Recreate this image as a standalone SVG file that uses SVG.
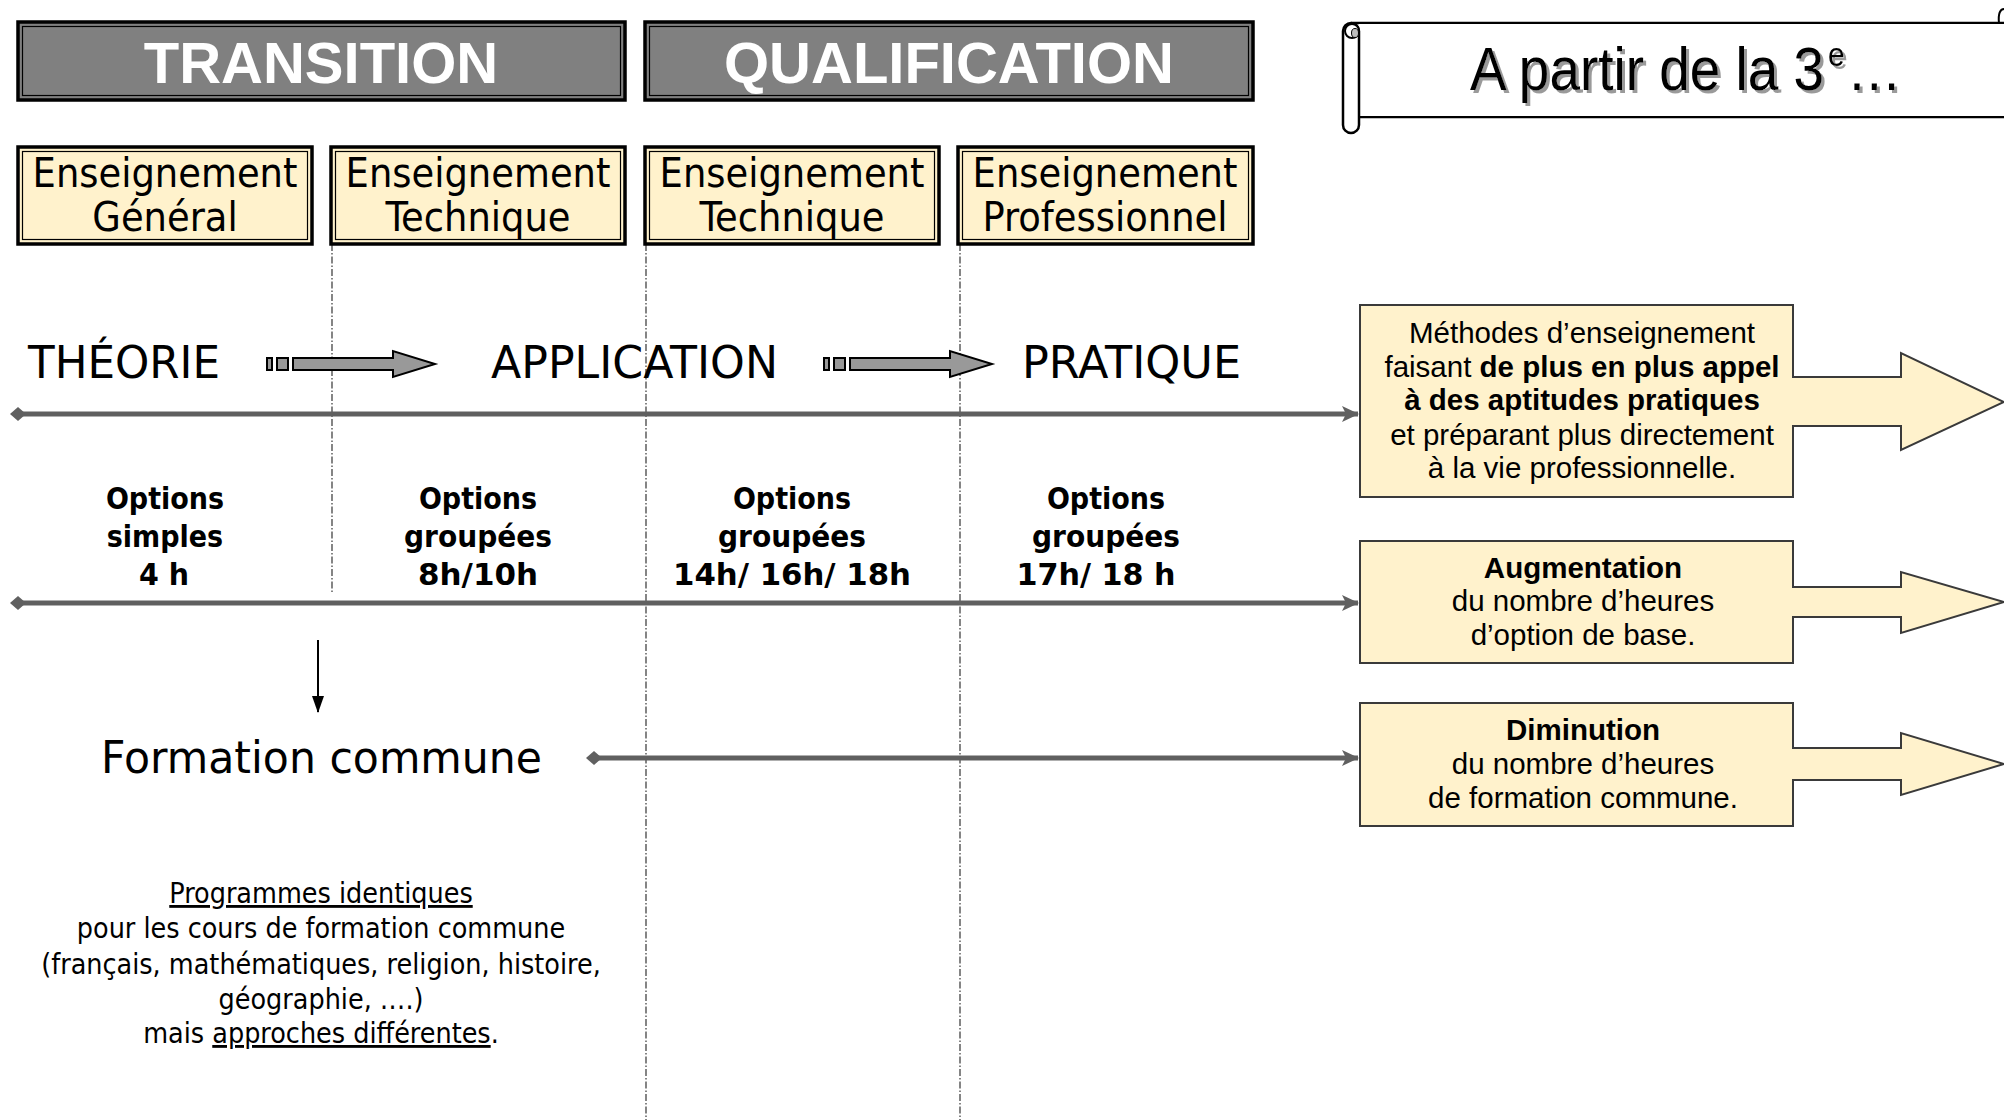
<svg xmlns="http://www.w3.org/2000/svg" width="2004" height="1120" viewBox="0 0 2004 1120">
<style>
.hdr{fill:#808080;stroke:#000;stroke-width:3.5}
.ens{fill:#fff2cc;stroke:#000;stroke-width:3.5}
.inner{fill:none;stroke:#000;stroke-width:1.2}
.dv{font-family:'DejaVu Sans Condensed','DejaVu Sans',sans-serif;font-stretch:condensed;fill:#000}
.dvr{font-family:'DejaVu Sans',sans-serif;fill:#000}
.ar{font-family:'Liberation Sans',Arial,sans-serif;fill:#000}
.hdrt{font-family:'Liberation Sans',Arial,sans-serif;font-weight:bold;font-size:58px;fill:#fff;text-anchor:middle}
.ent{font-size:41px;text-anchor:middle}
.big{font-size:44px}
.opt{font-size:30px;font-weight:bold;text-anchor:middle}
.para{font-size:28.4px;text-anchor:middle}
.box{fill:#fff2cc;stroke:#3a3a3a;stroke-width:2;stroke-linejoin:miter}
.bt{font-size:29.5px;text-anchor:middle}
.main{stroke:#606060;stroke-width:5;fill:none}
.dash{stroke:#444;stroke-width:1.3;stroke-dasharray:7 2 1.5 2;fill:none}
.garrow{fill:#999;stroke:#000;stroke-width:2}
</style>
<defs>
<marker id="dia" markerUnits="userSpaceOnUse" markerWidth="18" markerHeight="18" refX="9" refY="9" orient="auto">
<path d="M1,9 L9,2 L17,9 L9,16 Z" fill="#606060"/>
</marker>
<marker id="arr" markerUnits="userSpaceOnUse" markerWidth="20" markerHeight="20" refX="17" refY="10" orient="auto">
<path d="M1,2 L18,10 L1,18 L5,10 Z" fill="#606060"/>
</marker>
<marker id="blk" markerUnits="userSpaceOnUse" markerWidth="20" markerHeight="16" refX="17" refY="8" orient="auto">
<path d="M1,2 L18,8 L1,14 Z" fill="#000"/>
</marker>
<filter id="shadow" x="-5%" y="-20%" width="120%" height="150%">
<feOffset in="SourceAlpha" dx="3" dy="3" result="o"/>
<feFlood flood-color="#9a9a9a"/>
<feComposite in2="o" operator="in" result="s"/>
<feMerge><feMergeNode in="s"/><feMergeNode in="SourceGraphic"/></feMerge>
</filter>
</defs>

<g id="dashed-dividers">
<line class="dash" x1="332" y1="244" x2="332" y2="593"/>
<line class="dash" x1="646" y1="244" x2="646" y2="1120"/>
<line class="dash" x1="960" y1="244" x2="960" y2="1120"/>
</g>

<g id="hdr-transition">
<rect class="hdr" x="18" y="22" width="607" height="78"/>
<rect class="inner" x="22.5" y="26.5" width="598" height="69"/>
<text class="hdrt" x="321" y="83">TRANSITION</text>
</g>
<g id="hdr-qualification">
<rect class="hdr" x="645" y="22" width="608" height="78"/>
<rect class="inner" x="649.5" y="26.5" width="599" height="69"/>
<text class="hdrt" x="949" y="83">QUALIFICATION</text>
</g>

<g id="scroll">
<path d="M1351,23 H2004 M1359,117 H2004" stroke="#000" stroke-width="2.5" fill="none"/>
<rect x="1359" y="24" width="645" height="92" fill="#fff"/>
<rect x="1343" y="23" width="16" height="110" rx="8" ry="8" fill="#fff" stroke="#000" stroke-width="2.5"/>
<circle cx="1352" cy="31" r="7" fill="#fff" stroke="#000" stroke-width="2"/>
<ellipse cx="1355" cy="33" rx="3.5" ry="4.5" fill="#bdbdbd" stroke="#000" stroke-width="1"/>
<path d="M1999,23 C1998,14 2000,9 2004,9" stroke="#000" stroke-width="2" fill="none"/>
<g filter="url(#shadow)">
<text class="ar" font-size="62" transform="translate(1470,90) scale(0.886,1)">A partir de la 3</text>
<text class="ar" font-size="34" transform="translate(1828,66) scale(0.88,1)">e</text>
<text class="ar" font-size="62" transform="translate(1847,90) scale(0.88,1)">…</text>
</g>
</g>

<g id="ens-general">
<rect class="ens" x="18" y="147" width="294" height="97"/>
<rect class="inner" x="22.5" y="151.5" width="285" height="88"/>
<text class="dv ent" x="165" y="187">Enseignement</text>
<text class="dv ent" x="165" y="231">Général</text>
</g>
<g id="ens-technique-1">
<rect class="ens" x="331" y="147" width="294" height="97"/>
<rect class="inner" x="335.5" y="151.5" width="285" height="88"/>
<text class="dv ent" x="478" y="187">Enseignement</text>
<text class="dv ent" x="478" y="231">Technique</text>
</g>
<g id="ens-technique-2">
<rect class="ens" x="645" y="147" width="294" height="97"/>
<rect class="inner" x="649.5" y="151.5" width="285" height="88"/>
<text class="dv ent" x="792" y="187">Enseignement</text>
<text class="dv ent" x="792" y="231">Technique</text>
</g>
<g id="ens-professionnel">
<rect class="ens" x="958" y="147" width="295" height="97"/>
<rect class="inner" x="962.5" y="151.5" width="286" height="88"/>
<text class="dv ent" x="1105" y="187">Enseignement</text>
<text class="dv ent" x="1105" y="231">Professionnel</text>
</g>

<g id="theorie"><text class="dvr big" x="28" y="378" textLength="192" lengthAdjust="spacingAndGlyphs">THÉORIE</text></g>
<g id="application"><text class="dvr big" x="491" y="378" textLength="287" lengthAdjust="spacingAndGlyphs">APPLICATION</text></g>
<g id="pratique"><text class="dvr big" x="1022" y="378" textLength="219" lengthAdjust="spacingAndGlyphs">PRATIQUE</text></g>

<g id="arrow-theorie-application">
<rect class="garrow" x="267" y="358" width="5" height="12"/>
<rect class="garrow" x="277" y="358" width="11" height="12"/>
<path class="garrow" d="M293,358 H393 V351 L435,364 L393,377 V370 H293 Z"/>
</g>
<g id="arrow-application-pratique">
<rect class="garrow" x="824" y="358" width="5" height="12"/>
<rect class="garrow" x="834" y="358" width="11" height="12"/>
<path class="garrow" d="M850,358 H950 V351 L992,364 L950,377 V370 H850 Z"/>
</g>

<g id="opt-1">
<text class="dv opt" x="165" y="509">Options</text>
<text class="dv opt" x="165" y="547">simples</text>
<text class="dv opt" x="164" y="585" textLength="50" lengthAdjust="spacingAndGlyphs">4 h</text>
</g>
<g id="opt-2">
<text class="dv opt" x="478" y="509">Options</text>
<text class="dv opt" x="478" y="547" textLength="148" lengthAdjust="spacingAndGlyphs">groupées</text>
<text class="dv opt" x="478" y="585" textLength="120" lengthAdjust="spacingAndGlyphs">8h/10h</text>
</g>
<g id="opt-3">
<text class="dv opt" x="792" y="509">Options</text>
<text class="dv opt" x="792" y="547" textLength="148" lengthAdjust="spacingAndGlyphs">groupées</text>
<text class="dv opt" x="792" y="585" textLength="238" lengthAdjust="spacingAndGlyphs">14h/ 16h/ 18h</text>
</g>
<g id="opt-4">
<text class="dv opt" x="1106" y="509">Options</text>
<text class="dv opt" x="1106" y="547" textLength="148" lengthAdjust="spacingAndGlyphs">groupées</text>
<text class="dv opt" x="1096" y="585" textLength="159" lengthAdjust="spacingAndGlyphs">17h/ 18 h</text>
</g>

<g id="formation-commune"><text class="dvr big" x="101" y="773" textLength="441" lengthAdjust="spacingAndGlyphs">Formation commune</text></g>

<g id="programmes">
<text class="dv para" x="321" y="903"><tspan text-decoration="underline">Programmes identiques</tspan></text>
<text class="dv para" x="321" y="938">pour les cours de formation commune</text>
<text class="dv para" x="321" y="974">(français, mathématiques, religion, histoire,</text>
<text class="dv para" x="321" y="1009">géographie, ….)</text>
<text class="dv para" x="321" y="1043">mais <tspan text-decoration="underline">approches différentes</tspan>.</text>
</g>

<g id="box-methodes">
<path class="box" d="M1360,305 H1793 V377 H1901 V353 L2004,402 L1901,450 V426 H1793 V497 H1360 Z"/>
<text class="ar bt" x="1582" y="343">Méthodes d’enseignement</text>
<text class="ar bt" x="1582" y="377">faisant <tspan font-weight="bold">de plus en plus appel</tspan></text>
<text class="ar bt" x="1582" y="410" font-weight="bold">à des aptitudes pratiques</text>
<text class="ar bt" x="1582" y="445">et préparant plus directement</text>
<text class="ar bt" x="1582" y="478">à la vie professionnelle.</text>
</g>
<g id="box-augmentation">
<path class="box" d="M1360,541 H1793 V587 H1901 V572 L2004,602 L1901,633 V617 H1793 V663 H1360 Z"/>
<text class="ar bt" x="1583" y="578" font-weight="bold">Augmentation</text>
<text class="ar bt" x="1583" y="611">du nombre d’heures</text>
<text class="ar bt" x="1583" y="645">d’option de base.</text>
</g>
<g id="box-diminution">
<path class="box" d="M1360,703 H1793 V748 H1901 V733 L2004,764 L1901,795 V780 H1793 V826 H1360 Z"/>
<text class="ar bt" x="1583" y="740" font-weight="bold">Diminution</text>
<text class="ar bt" x="1583" y="774">du nombre d’heures</text>
<text class="ar bt" x="1583" y="808">de formation commune.</text>
</g>

<g id="connectors">
<line class="main" x1="18" y1="414" x2="1358" y2="414" marker-start="url(#dia)" marker-end="url(#arr)"/>
<line class="main" x1="18" y1="603" x2="1358" y2="603" marker-start="url(#dia)" marker-end="url(#arr)"/>
<line class="main" x1="594" y1="758" x2="1358" y2="758" marker-start="url(#dia)" marker-end="url(#arr)"/>
<line x1="318" y1="640" x2="318" y2="712" stroke="#000" stroke-width="2" marker-end="url(#blk)"/>
</g>
</svg>
